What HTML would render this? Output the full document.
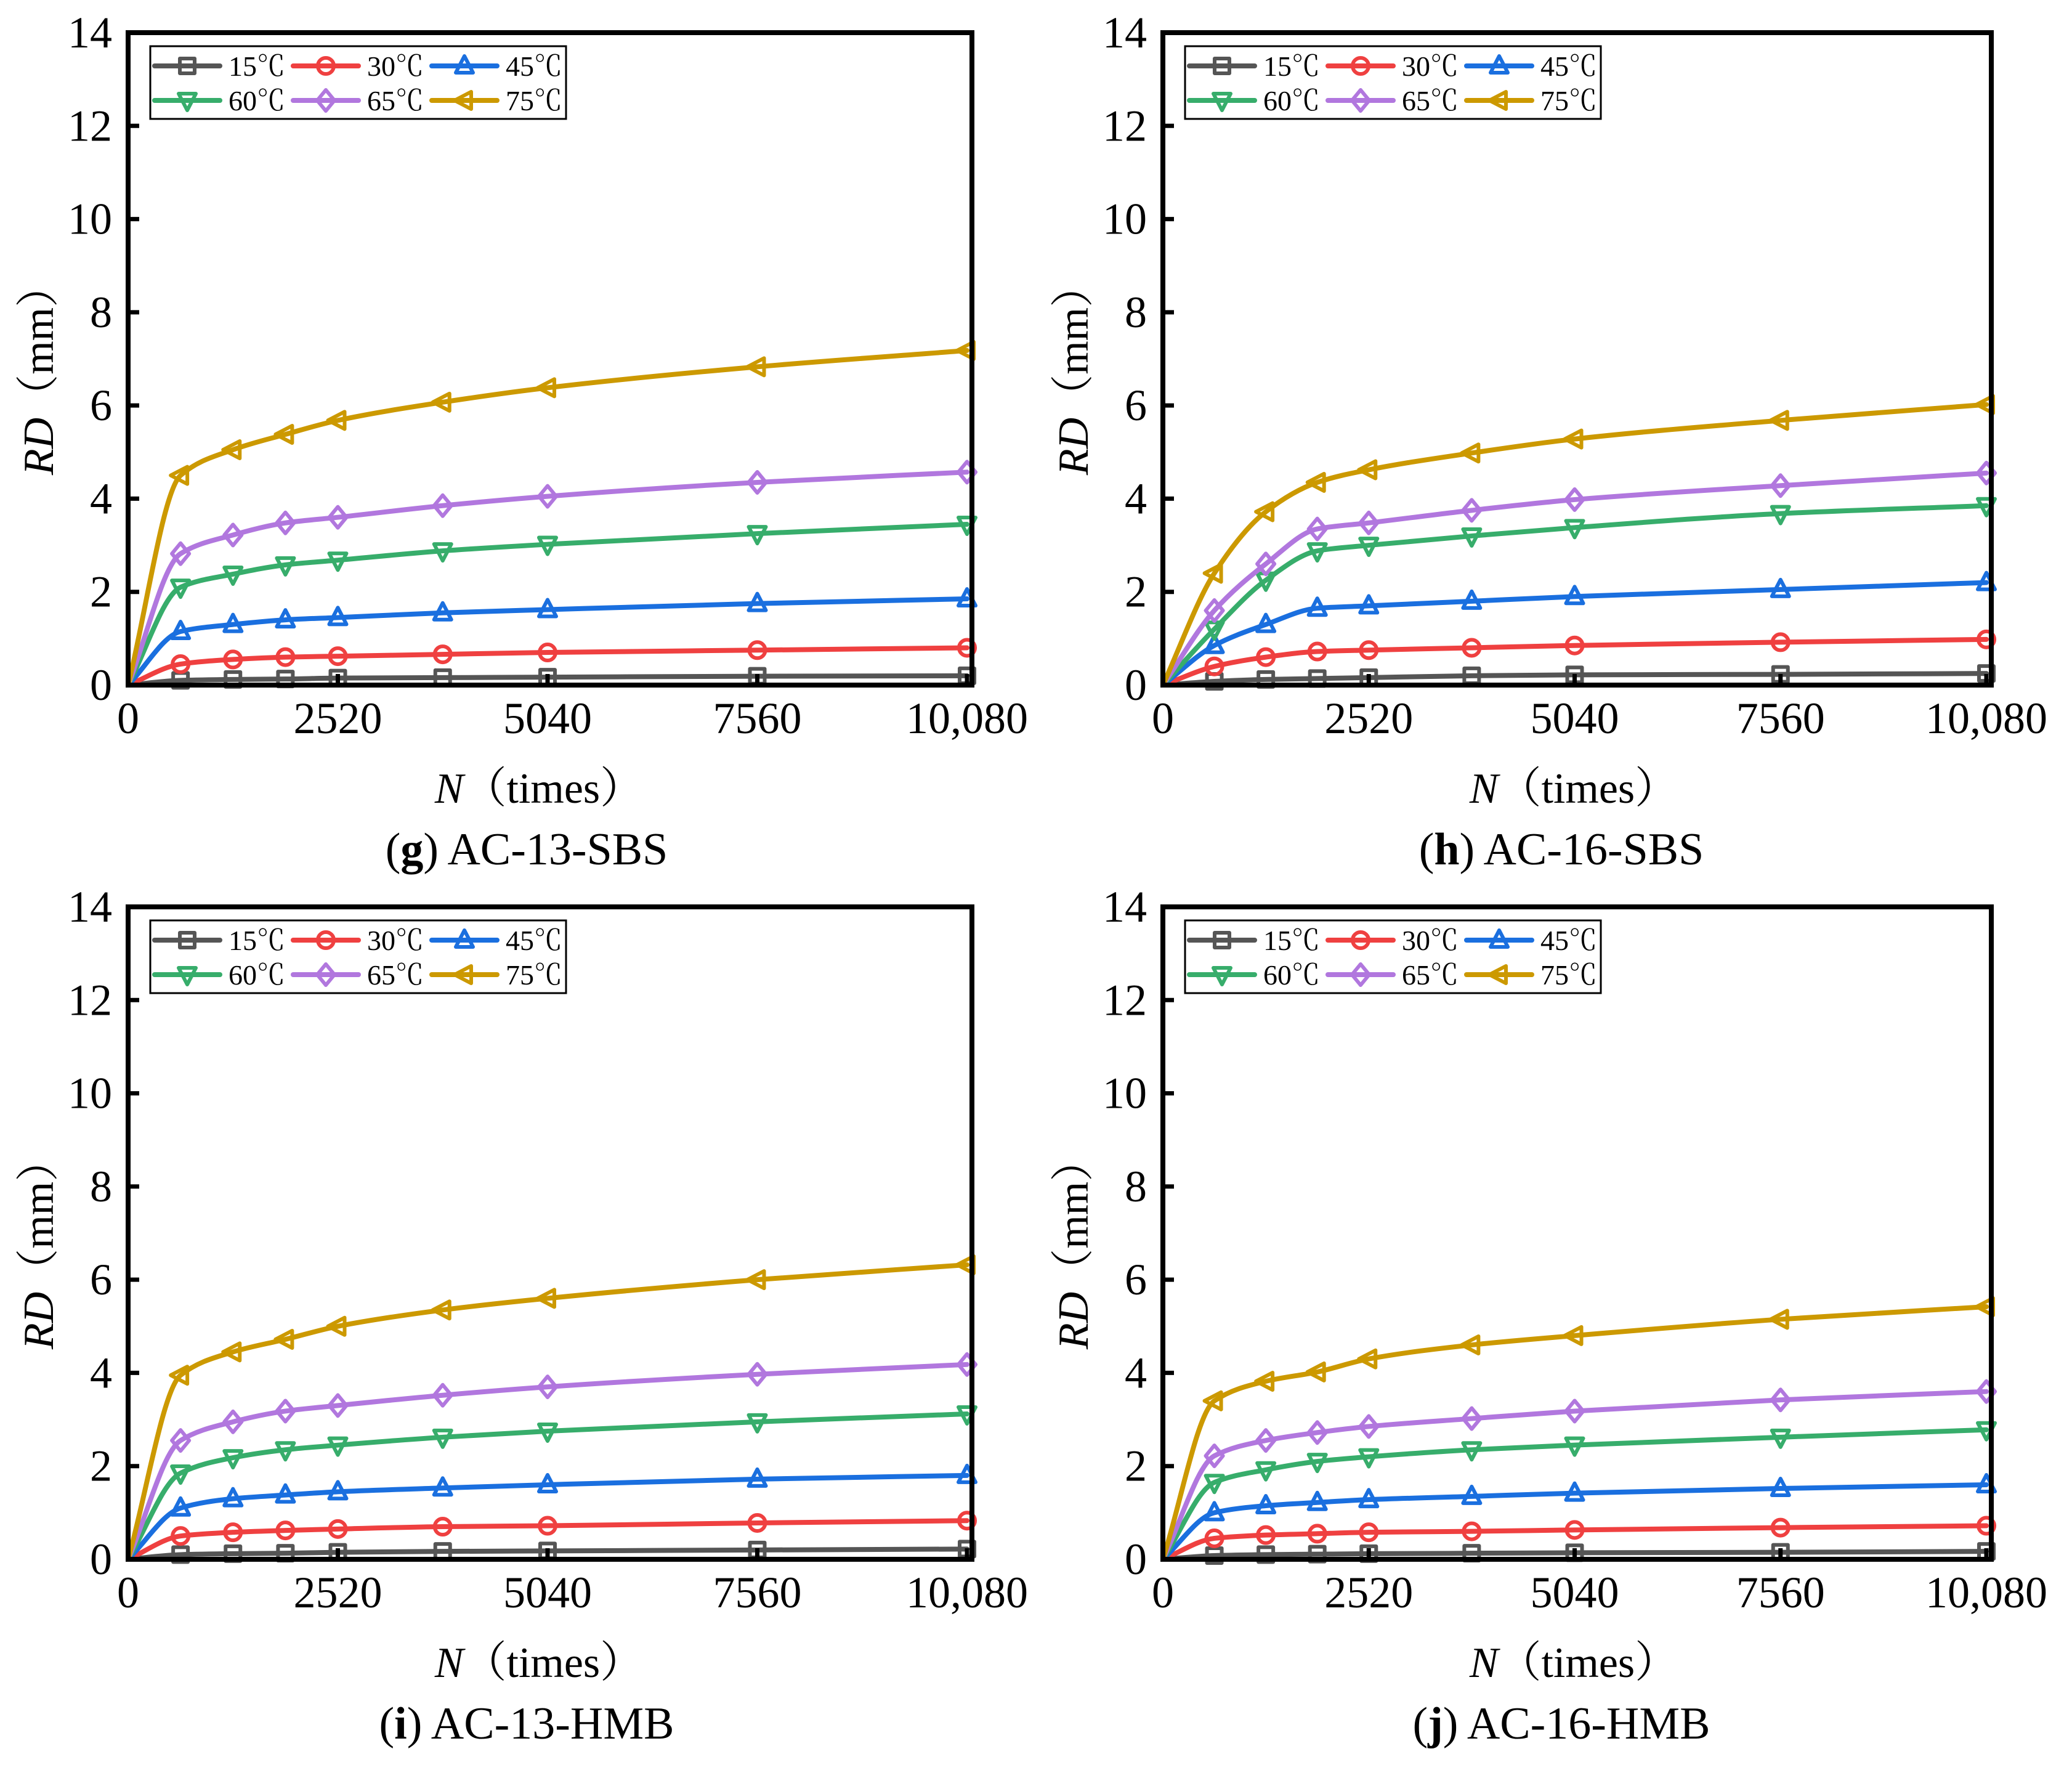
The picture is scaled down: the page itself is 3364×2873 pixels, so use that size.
<!DOCTYPE html>
<html><head><meta charset="utf-8">
<style>
html,body{margin:0;padding:0;background:#fff;}
svg{display:block;}
text{font-family:"Liberation Serif","Noto Serif CJK SC",serif;fill:#000;}
</style></head>
<body>
<svg id="fig" width="3364" height="2873" viewBox="0 0 3364 2873" xmlns="http://www.w3.org/2000/svg" font-family="Liberation Serif, Noto Serif CJK SC, serif"></svg>
<script>
const cycles = [630,1260,1890,2520,3780,5040,7560,10080];
const xTicks = [0,2520,5040,7560,10080];
const xTickLabels = ["0","2520","5040","7560","10,080"];
const yTicks = [0,2,4,6,8,10,12,14];
const seriesNames = ["15℃","30℃","45℃","60℃","65℃","75℃"];
const panelCaptions = ["AC-13-SBS","AC-16-SBS","AC-13-HMB","AC-16-HMB"];
const panelLetters = ["g","h","i","j"];
// panel g
const g15 = [0.10,0.12,0.13,0.15,0.16,0.17,0.19,0.20];
const g30 = [0.45,0.55,0.60,0.62,0.66,0.70,0.75,0.80];
const g45 = [1.15,1.30,1.40,1.45,1.55,1.62,1.75,1.85];
const g60 = [2.10,2.38,2.58,2.68,2.88,3.02,3.25,3.45];
const g65 = [2.82,3.22,3.48,3.60,3.85,4.05,4.35,4.57];
const g75 = [4.50,5.05,5.38,5.68,6.07,6.38,6.83,7.18];
// panel h
const h15 = [0.08,0.12,0.14,0.16,0.20,0.22,0.23,0.25];
const h30 = [0.40,0.60,0.72,0.75,0.80,0.85,0.92,0.98];
const h45 = [0.85,1.30,1.65,1.70,1.80,1.90,2.05,2.20];
const h60 = [1.20,2.25,2.88,3.00,3.20,3.38,3.68,3.85];
const h65 = [1.60,2.60,3.35,3.48,3.75,3.98,4.28,4.55];
const h75 = [2.40,3.72,4.35,4.62,4.98,5.28,5.68,6.02];
// panel i
const i15 = [0.10,0.12,0.13,0.15,0.17,0.18,0.20,0.22];
const i30 = [0.50,0.58,0.62,0.65,0.70,0.72,0.78,0.83];
const i45 = [1.10,1.30,1.38,1.45,1.53,1.60,1.72,1.80];
const i60 = [1.85,2.18,2.35,2.45,2.62,2.75,2.95,3.12];
const i65 = [2.55,2.95,3.18,3.30,3.52,3.70,3.97,4.18];
const i75 = [3.95,4.45,4.72,5.00,5.35,5.60,6.00,6.32];
// panel j
const j15 = [0.08,0.10,0.11,0.12,0.13,0.14,0.15,0.17];
const j30 = [0.45,0.52,0.55,0.58,0.60,0.63,0.68,0.72];
const j45 = [1.00,1.15,1.22,1.28,1.35,1.42,1.52,1.60];
const j60 = [1.65,1.92,2.10,2.20,2.35,2.45,2.62,2.78];
const j65 = [2.22,2.55,2.72,2.85,3.02,3.18,3.42,3.60];
const j75 = [3.40,3.82,4.02,4.30,4.60,4.80,5.15,5.42];

const panelData = [[g15,g30,g45,g60,g65,g75],[h15,h30,h45,h60,h65,h75],[i15,i30,i45,i60,i65,i75],[j15,j30,j45,j60,j65,j75]];
const colors = ["#555555","#ef4040","#1a6fdf","#37ad6b","#b177de","#cc9900"];
const markers = ["square","circle","up","down","diamond","left"];

const NS="http://www.w3.org/2000/svg";
const svg=document.getElementById('fig');
function mk(tag,attrs,parent){const e=document.createElementNS(NS,tag);for(const k in attrs)e.setAttribute(k,attrs[k]);(parent||svg).appendChild(e);return e;}

function markerEl(type,cx,cy,color,parent){
  const r=14; let e;
  const st={fill:"none",stroke:color,"stroke-width":6,"stroke-linejoin":"round"};
  if(type==="square"){e=mk('rect',Object.assign({x:cx-12,y:cy-12,width:24,height:24},st),parent);}
  else if(type==="circle"){e=mk('circle',Object.assign({cx:cx,cy:cy,r:13},st),parent);}
  else {
    let p;
    if(type==="up")p=[[cx,cy-r-2],[cx+r,cy+r-3],[cx-r,cy+r-3]];
    else if(type==="down")p=[[cx,cy+r+2],[cx+r,cy-r+3],[cx-r,cy-r+3]];
    else if(type==="diamond")p=[[cx,cy-r-3],[cx+r,cy],[cx,cy+r+3],[cx-r,cy]];
    else p=[[cx-r-2,cy],[cx+r-3,cy-r],[cx+r-3,cy+r]];
    e=mk('polygon',Object.assign({points:p.map(q=>q.join(',')).join(' ')},st),parent);
  }
  return e;
}

// PCHIP monotone interpolation
function smoothPath(pts){
  const n=pts.length,h=[],m=[],t=[];
  for(let k=0;k<n-1;k++){h[k]=pts[k+1][0]-pts[k][0];m[k]=(pts[k+1][1]-pts[k][1])/h[k];}
  for(let k=1;k<n-1;k++){
    if(m[k-1]*m[k]<=0){t[k]=0;continue;}
    const w1=2*h[k]+h[k-1],w2=h[k]+2*h[k-1];
    t[k]=(w1+w2)/(w1/m[k-1]+w2/m[k]);
  }
  t[0]=m[0]; t[n-1]=m[n-2];
  let d="M"+pts[0][0]+","+pts[0][1];
  for(let k=0;k<n-1;k++){const q=h[k]/3;d+=" C"+(pts[k][0]+q)+","+(pts[k][1]+t[k]*q)+" "+(pts[k+1][0]-q)+","+(pts[k+1][1]-t[k+1]*q)+" "+pts[k+1][0]+","+pts[k+1][1];}
  return d;
}

const offsets=[[0,0],[1680,0],[0,1419],[1680,1419]];
offsets.forEach((off,pi)=>{
  const ox=off[0], oy=off[1];
  const right = (pi%2===0)?1578:1553;
  const xEnd = (pi%2===0)?1570:1545;
  const L=208+ox, R=right+ox, T=53+oy, B=1112+oy;
  const xs=v=>L+v*(xEnd-208)/10080;
  const ys=v=>B-v*(B-T)/14;
  const g=mk('g',{});
  
  
  panelData[pi].forEach((arr,si)=>{
    const sg=mk('g',{},g);
    
    
    const pts=[[xs(0),ys(0)]].concat(cycles.map((c,k)=>[xs(c),ys(arr[k])]));
    const p=mk('path',{d:smoothPath(pts),fill:"none",stroke:colors[si],"stroke-width":8,"stroke-linecap":"round"},sg);
    
    
    cycles.forEach((c,k)=>{
      const m=markerEl(markers[si],xs(c),ys(arr[k]),colors[si],sg);
      
      
    });
  });
  yTicks.forEach(v=>{
    const t=mk('line',{x1:L,x2:L+18,y1:ys(v),y2:ys(v),stroke:"#000","stroke-width":7},g);
    
    
    const tl=mk('text',{x:L-26,y:ys(v)+24,"text-anchor":"end","font-size":72},g);
    tl.textContent=String(v);
    
    
  });
  xTicks.forEach((v,k)=>{
    const t=mk('line',{x1:xs(v),x2:xs(v),y1:B,y2:B-18,stroke:"#000","stroke-width":7},g);
    
    
    const tl=mk('text',{x:xs(v),y:B+78,"text-anchor":"middle","font-size":72},g);
    tl.textContent=xTickLabels[k];
    
    
  });
  const fr=mk('rect',{x:L,y:T,width:R-L,height:B-T,fill:"none",stroke:"#000","stroke-width":8},g);
  
  
  const lg=mk('g',{},g);
  
  
  const lb=mk('rect',{x:244+ox,y:75+oy,width:675,height:118,fill:"#fff",stroke:"#000","stroke-width":3},lg);
  
  
  seriesNames.forEach((nm,si)=>{
    const col=si%3,row=Math.floor(si/3);
    const lx=247+ox+col*225, ly=107+oy+row*56;
    const e=mk('g',{},lg);
    
    
    mk('line',{x1:lx+4,x2:lx+110,y1:ly,y2:ly,stroke:colors[si],"stroke-width":8,"stroke-linecap":"round"},e);
    markerEl(markers[si],lx+57,ly,colors[si],e);
    const tx=mk('text',{x:lx+124,y:ly+16,"font-size":46},e);
    tx.textContent=nm;
  });
  const yt=mk('text',{x:0,y:0,"font-size":70,"text-anchor":"middle",transform:"translate("+(86+ox)+","+(600+oy)+") rotate(-90)"},g);
  yt.innerHTML='<tspan font-style="italic">RD</tspan>（mm）';
  
  
  const xt=mk('text',{x:875+ox,y:1303+oy,"font-size":70,"text-anchor":"middle"},g);
  xt.innerHTML='<tspan font-style="italic">N</tspan>（times）';
  
  
  const cp=mk('text',{x:855+ox,y:1403+oy,"font-size":74,"text-anchor":"middle"},g);
  cp.innerHTML='(<tspan font-weight="bold">'+panelLetters[pi]+'</tspan>) '+panelCaptions[pi];
  
  
});
</script>
</body></html>
